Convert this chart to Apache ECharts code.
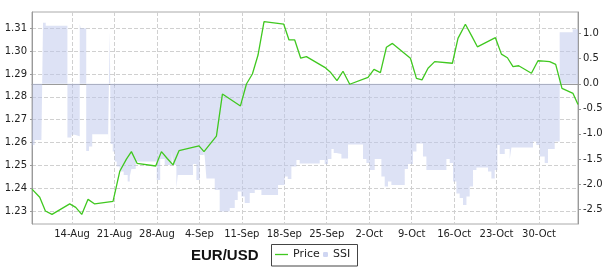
<!DOCTYPE html>
<html><head><meta charset="utf-8">
<script src="https://cdn.jsdelivr.net/npm/echarts@6/dist/echarts.min.js"></script>
<style>html,body{margin:0;padding:0;background:#fff}#c{width:609px;height:269px}</style>
</head><body><div id="c"></div>
<script>
// Day numbers counted from 31 July 2012 (14 = 14-Aug, 35 = 4-Sep, 63 = 2-Oct, 94 = 2-Nov)
const priceDay = [7.40, 8.675, 9.61, 10.70, 13.62, 14.61, 15.60, 16.64, 17.74, 20.76, 21.87, 22.97, 23.79, 24.72, 27.80, 28.74, 29.70, 30.65, 31.64, 34.94, 35.76, 36.78, 37.81, 38.80, 41.77, 42.76, 43.74, 44.67, 45.66, 48.91, 49.78, 50.72, 51.71, 52.65, 55.67, 56.66, 57.69, 58.68, 59.79, 62.81, 63.79, 64.85, 65.84, 66.83, 69.80, 70.79, 71.71, 72.70, 73.80, 76.72, 77.64, 78.86, 79.85, 80.84, 83.81, 84.80, 85.79, 86.71, 87.65, 89.75, 90.83, 91.80, 92.76, 93.75, 94.79, 96.61, 97.43];
const priceValue = [1.2396, 1.2360, 1.2300, 1.2285, 1.2331, 1.2316, 1.2285, 1.2351, 1.2331, 1.2342, 1.2474, 1.2527, 1.2560, 1.2509, 1.2497, 1.2560, 1.2530, 1.2502, 1.2564, 1.2585, 1.2560, 1.2594, 1.2628, 1.2812, 1.2760, 1.2856, 1.2900, 1.2983, 1.3129, 1.3118, 1.3049, 1.3049, 1.2969, 1.2976, 1.2929, 1.2906, 1.2871, 1.2912, 1.2855, 1.2885, 1.2920, 1.2906, 1.3017, 1.3034, 1.2969, 1.2881, 1.2874, 1.2925, 1.2954, 1.2947, 1.3056, 1.3118, 1.3069, 1.3019, 1.3059, 1.2987, 1.2971, 1.2932, 1.2936, 1.2903, 1.2958, 1.2956, 1.2954, 1.2942, 1.2837, 1.2815, 1.2766];

const ssiDay = [7.40, 7.50, 7.83, 8.95, 9.22, 9.66, 13.24, 13.90, 14.45, 15.27, 15.43, 16.34, 16.80, 17.33, 19.94, 20.22, 20.38, 20.71, 21.04, 21.37, 21.86, 22.52, 23.18, 23.51, 23.79, 24.50, 24.67, 27.97, 28.54, 29.28, 30.44, 30.69, 31.21, 31.43, 33.95, 34.51, 35.06, 35.71, 35.88, 36.16, 37.53, 38.35, 40.00, 40.83, 41.32, 41.93, 42.48, 43.30, 44.13, 45.23, 47.97, 49.07, 49.57, 50.17, 51.00, 51.54, 54.84, 55.66, 56.21, 56.77, 57.15, 57.59, 58.42, 59.51, 61.98, 62.54, 63.09, 63.91, 65.01, 65.56, 66.10, 66.66, 68.86, 69.40, 70.22, 70.79, 71.87, 72.43, 75.73, 76.28, 76.82, 77.38, 77.92, 78.47, 79.03, 79.57, 80.12, 80.68, 82.59, 83.15, 83.70, 84.14, 84.52, 85.35, 86.17, 86.45, 90.01, 90.57, 91.11, 91.94, 92.48, 93.59, 94.41, 96.56, 97.43];
const ssiValue = [-1.35, -1.22, -1.12, -1.15, 1.22, 1.16, -1.07, -1.02, -1.05, 1.19, 1.11, -1.34, -1.25, -1.01, -1.12, 1.04, -1.20, -1.35, -1.55, -1.65, -1.75, -1.82, -1.95, -1.85, -1.70, -1.60, -1.55, -1.92, -1.50, -1.62, -1.35, -1.62, -2.08, -1.82, -1.60, -1.92, -1.42, -1.35, -1.45, -1.89, -2.12, -2.55, -2.48, -2.32, -2.15, -2.25, -2.38, -2.18, -2.12, -2.22, -2.02, -1.85, -1.90, -1.65, -1.52, -1.59, -1.52, -1.60, -1.50, -1.30, -1.38, -1.40, -1.49, -1.21, -1.50, -1.58, -1.72, -1.50, -1.85, -2.05, -1.95, -2.02, -1.70, -1.60, -1.35, -1.19, -1.45, -1.72, -1.50, -1.58, -1.95, -2.19, -2.28, -2.42, -2.25, -2.05, -1.72, -1.67, -1.75, -1.89, -1.72, -1.22, -1.40, -1.30, -1.50, -1.27, -1.15, -1.22, -1.45, -1.58, -1.30, -1.15, 1.03, 1.09, 1.09];

const xTickDay = [14, 21, 28, 35, 42, 49, 56, 63, 70, 77, 84, 91];
const xTickLabels = ['14-Aug', '21-Aug', '28-Aug', '4-Sep', '11-Sep', '18-Sep', '25-Sep', '2-Oct', '9-Oct', '16-Oct', '23-Oct', '30-Oct'];
const leftTicks = [1.23, 1.24, 1.25, 1.26, 1.27, 1.28, 1.29, 1.30, 1.31];
const rightTicks = [-2.5, -2.0, -1.5, -1.0, -0.5, 0.0, 0.5, 1.0];

const chart = echarts.init(document.getElementById('c'), null, {renderer: 'canvas'});
const axisGray = '#9a9a9a';
const labelFont = {fontSize: 10, fontFamily: 'DejaVu Sans', color: '#222'};
const grid = {type: 'dashed', color: '#d0d0d0', width: 1, dashOffset: 0};

chart.setOption({
  animation: false,
  backgroundColor: '#fff',
  grid: {left: 32, top: 12, width: 546, height: 212, show: true, borderColor: '#aaaaaa', borderWidth: 1, backgroundColor: '#fff'},
  xAxis: {
    type: 'value', min: 'dataMin', max: 'dataMax',
    axisLine: {show: true, lineStyle: {color: axisGray}},
    axisTick: {show: true, length: 2, customValues: xTickDay, lineStyle: {color: axisGray}},
    axisLabel: Object.assign({margin: 5, customValues: xTickDay,
      formatter: v => { const i = xTickDay.indexOf(Math.round(v)); return i >= 0 ? xTickLabels[i] : ''; }}, labelFont),
    splitLine: {show: true, lineStyle: grid}
  },
  yAxis: [{
    type: 'value', position: 'left', min: 1.22431, max: 1.31714,
    axisLine: {show: true, lineStyle: {color: axisGray}},
    axisTick: {show: true, length: 2, customValues: leftTicks, lineStyle: {color: axisGray}},
    axisLabel: Object.assign({margin: 5, customValues: leftTicks, formatter: v => v.toFixed(2)}, labelFont),
    splitLine: {show: true, lineStyle: grid}
  }, {
    type: 'value', position: 'right', min: -2.7995, max: 1.4332,
    axisLine: {show: true, lineStyle: {color: axisGray}},
    axisTick: {show: true, length: 3, customValues: rightTicks, lineStyle: {color: axisGray}},
    axisLabel: Object.assign({margin: 5, customValues: rightTicks, formatter: v => v.toFixed(1)}, labelFont),
    splitLine: {show: false}
  }],
  title: {text: 'EUR/USD', left: 191, top: 248, padding: 0,
    textStyle: {fontSize: 15, fontWeight: 'bold', fontFamily: 'Liberation Sans', color: '#111'}},
  graphic: [{type: 'rect', z: 0, shape: {x: 271.5, y: 244.5, width: 86, height: 21.5},
    style: {fill: '#fff', stroke: '#444', lineWidth: 1}}],
  legend: [{
    z: 5, selectedMode: false, left: 275, top: 249, padding: 0,
    data: [{name: 'Price', icon: 'rect'}], itemWidth: 13, itemHeight: 1.3,
    textStyle: {fontSize: 11, fontFamily: 'DejaVu Sans', color: '#222'}
  }, {
    z: 5, selectedMode: false, left: 323, top: 249, padding: 0,
    data: [{name: 'SSI', icon: 'roundRect', itemStyle: {color: '#cfd6f2'}}], itemWidth: 5, itemHeight: 5,
    textStyle: {fontSize: 11, fontFamily: 'DejaVu Sans', color: '#222'}
  }],
  series: [{
    name: 'SSI', type: 'line', yAxisIndex: 1, step: 'end', symbol: 'none', z: 1, silent: true,
    data: ssiDay.map((d, i) => [d, ssiValue[i]]),
    itemStyle: {color: '#cfd6f2'},
    lineStyle: {width: 0, opacity: 0},
    areaStyle: {color: 'rgb(187,197,235)', opacity: 0.5, origin: 0}
  }, {
    name: 'Price', type: 'line', yAxisIndex: 0, symbol: 'none', z: 3,
    data: priceDay.map((d, i) => [d, priceValue[i]]),
    itemStyle: {color: '#40c820'},
    lineStyle: {color: '#40c820', width: 1.3}
  }]
});
</script></body></html>
